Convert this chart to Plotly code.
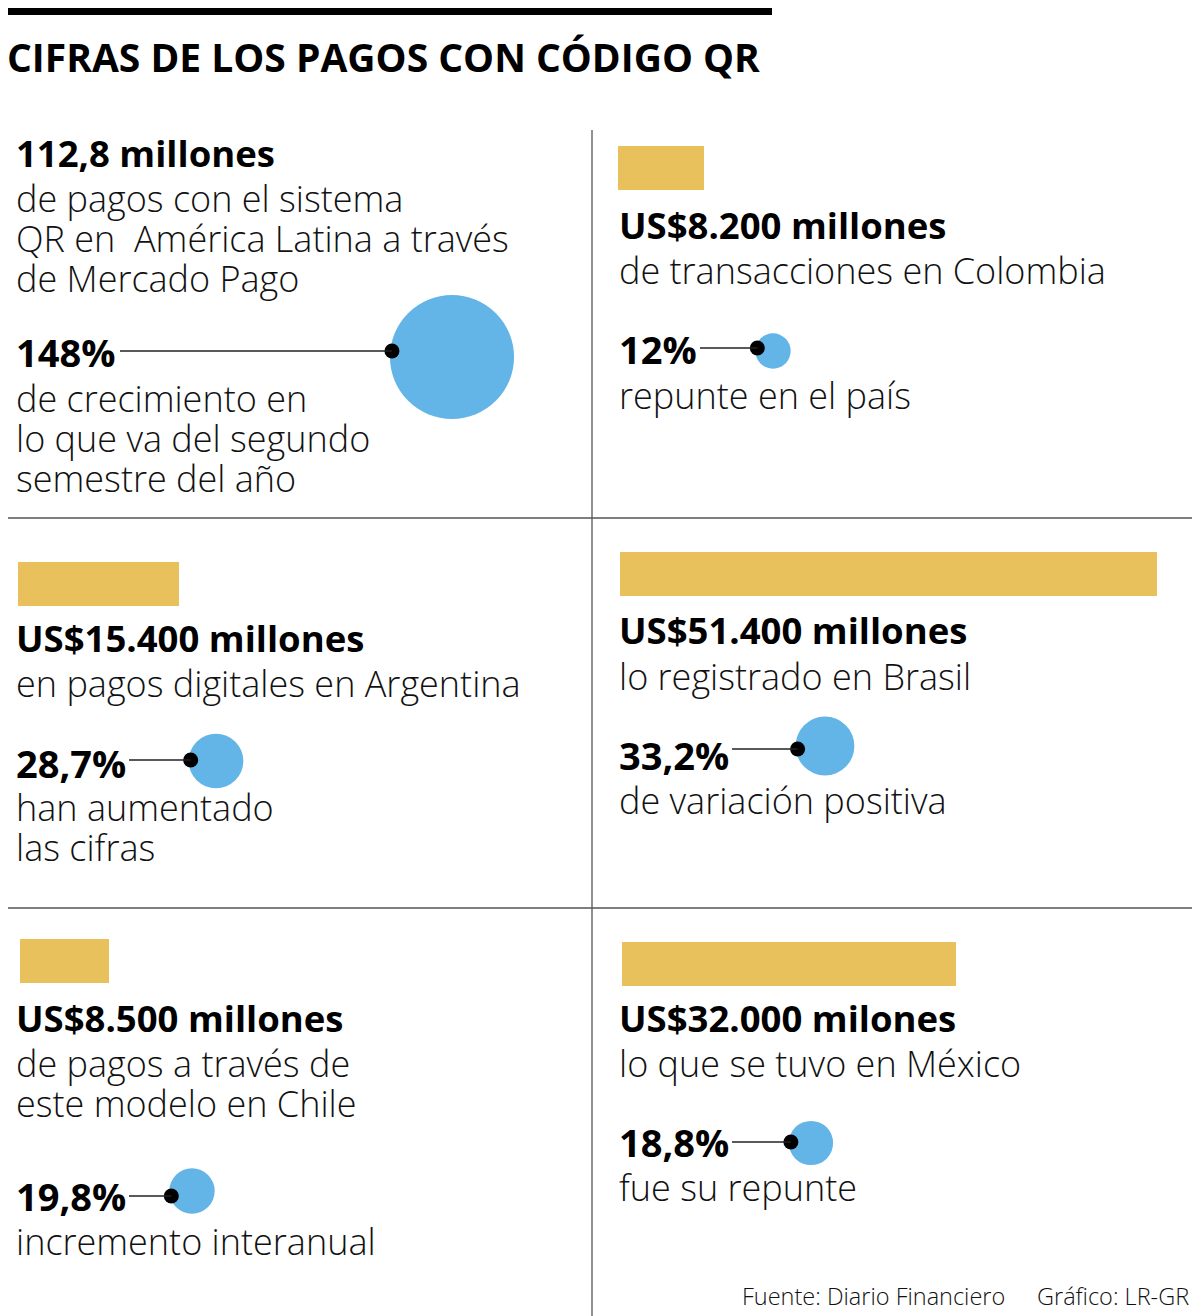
import math
import plotly.graph_objects as go

# -----------------------------
# Data
# -----------------------------
countries = ["América Latina", "Colombia", "Argentina", "Brasil", "Chile", "México"]
amounts_usd_m = [None, 8200, 15400, 51400, 8500, 32000]   # US$ millones
growth_pct = [148, 12, 28.7, 33.2, 19.8, 18.8]             # %

headlines = [
    "112,8 millones",
    "US$8.200 millones",
    "US$15.400 millones",
    "US$51.400 millones",
    "US$8.500 millones",
    "US$32.000 milones",
]
descriptions = [
    ["de pagos con el sistema", "QR en  América Latina a través", "de Mercado Pago"],
    ["de transacciones en Colombia"],
    ["en pagos digitales en Argentina"],
    ["lo registrado en Brasil"],
    ["de pagos a través de", "este modelo en Chile"],
    ["lo que se tuvo en México"],
]
growth_labels = ["148%", "12%", "28,7%", "33,2%", "19,8%", "18,8%"]
growth_texts = [
    ["de crecimiento en", "lo que va del segundo", "semestre del año"],
    ["repunte en el país"],
    ["han aumentado", "las cifras"],
    ["de variación positiva"],
    ["incremento interanual"],
    ["fue su repunte"],
]

title = "CIFRAS DE LOS PAGOS CON CÓDIGO QR"
source = "Fuente: Diario Financiero"
credit = "Gráfico: LR-GR"

# -----------------------------
# Layout (pixel positions)
# -----------------------------
W, H = 1200, 1316
PAGE_PAD = 8                      # default body margin of the html page
GOLD = "#E8C05C"
BLUE = "#62B5E6"
PX_PER_MILLION = 537 / 51400      # bar length scale
DIAM_PER_SQRT = 10.2              # circle area proportional to %

text_x = [14, 617, 14, 617, 14, 617]
bar_x = [None, 618, 18, 620, 20, 622]
bar_y = [None, 168, 584, 574, 961, 964]
head_y = [153, 225, 638, 630, 1018, 1018]
desc_y = [198, 270, 683, 676, 1063, 1063]
pct_y = [352, 349, 763, 755, 1196, 1142]
pct_text_y = [398, 395, 807, 800, 1241, 1187]
line_x0 = [120, 700, 129, 732, 129, 732]
dot_y = [351, 348, 760, 749, 1196, 1142]
circle_c = [(452, 357), (773, 351), (216, 761), (825, 746), (192, 1191), (811, 1143)]
LINE_STEP = 40

BODY_FONT = dict(family="Open Sans", size=36, color="#111111", weight=300)
BOLD_FONT = dict(family="Open Sans", size=36.5, color="#000000", weight=700)
PCT_FONT = dict(family="Open Sans", size=38, color="#000000", weight=700)

fig = go.Figure()

# -----------------------------
# Gold bars (amount in US$ millones)
# -----------------------------
bars = [i for i, a in enumerate(amounts_usd_m) if a is not None]
fig.add_trace(go.Bar(
    orientation="h",
    x=[amounts_usd_m[i] * PX_PER_MILLION for i in bars],
    base=[bar_x[i] for i in bars],
    y=[bar_y[i] for i in bars],
    width=44,
    marker=dict(color=GOLD, line=dict(width=0)),
    hovertext=[countries[i] for i in bars],
    showlegend=False,
))

# -----------------------------
# Blue circles (growth %)
# -----------------------------
diams = [DIAM_PER_SQRT * math.sqrt(g) for g in growth_pct]
fig.add_trace(go.Scatter(
    x=[c[0] for c in circle_c],
    y=[c[1] for c in circle_c],
    mode="markers",
    marker=dict(size=diams, color=BLUE, opacity=1, line=dict(width=0)),
    hovertext=countries,
    showlegend=False,
))

# connector lines + black dots
dot_x = [c[0] - d / 2 + 2 for c, d in zip(circle_c, diams)]
for i in range(len(growth_pct)):
    fig.add_shape(type="line", x0=line_x0[i], x1=dot_x[i], y0=dot_y[i], y1=dot_y[i],
                  line=dict(color="#222222", width=1.3))
fig.add_trace(go.Scatter(
    x=dot_x, y=dot_y, mode="markers",
    marker=dict(size=15, color="#000000", opacity=1),
    showlegend=False, hoverinfo="skip",
))

# -----------------------------
# Texts
# -----------------------------
def add_text(x, y, text, font, anchor="left", xshift=0):
    fig.add_annotation(x=x, y=y, text=text, showarrow=False, xanchor=anchor,
                       yanchor="middle", font=font, xref="x", yref="y", xshift=xshift)

for i in range(6):
    add_text(text_x[i], head_y[i], headlines[i], BOLD_FONT)
    for j, line in enumerate(descriptions[i]):
        add_text(text_x[i], desc_y[i] + j * LINE_STEP, line, BODY_FONT)
    add_text(text_x[i], pct_y[i], growth_labels[i], PCT_FONT)
    for j, line in enumerate(growth_texts[i]):
        add_text(text_x[i], pct_text_y[i] + j * LINE_STEP, line, BODY_FONT)

add_text(PAGE_PAD + 0.5, 56, title, dict(family="Open Sans", size=39, color="#000000", weight=700),
         xshift=-4)
foot_font = dict(family="Open Sans", size=23.5, color="#111111", weight=300)
add_text(1007, 1296, source, foot_font, "right")
add_text(1191, 1296, credit, foot_font, "right")

# -----------------------------
# Rules / dividers
# -----------------------------
fig.add_shape(type="rect", x0=0, x1=772, y0=8, y1=15, fillcolor="#000000", line_width=0)
fig.add_shape(type="line", x0=592, x1=592, y0=130, y1=H, line=dict(color="#555555", width=1.3))
for yy in (518, 908):
    fig.add_shape(type="line", x0=0, x1=W, y0=yy, y1=yy, line=dict(color="#555555", width=1.3))

# the page puts the figure 8px in from the top-left corner
fig.update_layout(
    width=W - PAGE_PAD, height=H - PAGE_PAD,
    margin=dict(l=0, r=0, t=0, b=0),
    paper_bgcolor="white", plot_bgcolor="white",
    xaxis=dict(range=[PAGE_PAD, W], visible=False, fixedrange=True),
    yaxis=dict(range=[H, PAGE_PAD], visible=False, fixedrange=True),
    bargap=0,
)

fig.write_html("out.html")
